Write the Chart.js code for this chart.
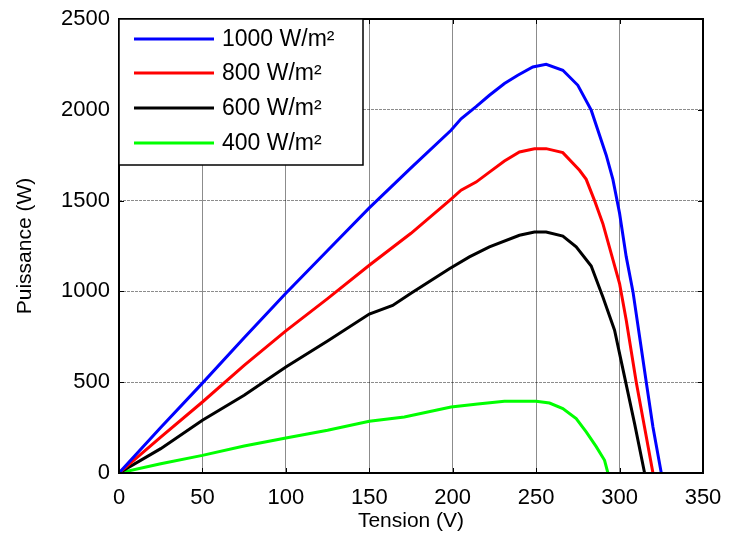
<!DOCTYPE html>
<html>
<head>
<meta charset="utf-8">
<script src="https://cdn.jsdelivr.net/npm/chart.js@4.4.0/dist/chart.umd.min.js"></script>
<style>
  html, body { margin: 0; padding: 0; background: #fff; }
  canvas { display: block; }
</style>
</head>
<body>
<canvas id="pvChart" width="730" height="537"></canvas>
<script>
// P-V curves
const seriesLabels = ['1000 W/m²', '800 W/m²', '600 W/m²', '400 W/m²'];
const seriesColors = ['#0000ff', '#ff0000', '#000000', '#00ff00'];

const voltage1000 = [0, 25, 50, 75, 100, 125, 150, 175, 199, 205, 214, 222, 231, 239, 248, 256, 266, 275, 283, 292, 296, 300, 304, 308, 312, 316, 320, 325];
const power1000 = [0, 250, 495, 745, 990, 1225, 1460, 1680, 1887, 1950, 2017, 2080, 2145, 2190, 2236, 2250, 2218, 2135, 1998, 1750, 1617, 1430, 1190, 1000, 750, 500, 253, 0];

const voltage800 = [0, 25, 50, 75, 100, 125, 150, 175, 198, 205, 214, 222, 231, 240, 249, 256, 266, 276, 280, 285, 290, 295, 300, 304, 310, 315, 320];
const power800 = [0, 198, 391, 593, 783, 960, 1144, 1320, 1500, 1557, 1602, 1657, 1718, 1768, 1786, 1786, 1764, 1667, 1617, 1500, 1373, 1208, 1043, 841, 500, 250, 0];

const voltage600 = [0, 25, 50, 75, 100, 125, 150, 164, 175, 198, 210, 222, 240, 249, 256, 266, 274, 283, 290, 297, 303, 309, 315];
const power600 = [0, 134, 290, 428, 584, 727, 875, 923, 990, 1125, 1190, 1245, 1309, 1327, 1327, 1305, 1245, 1140, 969, 786, 529, 272, 0];

const voltage400 = [0, 25, 50, 75, 100, 125, 150, 171, 199, 215, 231, 250, 258, 266, 274, 280, 286, 291, 293];
const power400 = [0, 51, 97, 149, 193, 235, 285, 308, 363, 380, 395, 395, 385, 355, 300, 226, 145, 70, 0];

const xTicks = [0, 50, 100, 150, 200, 250, 300, 350];
const yTicks = [0, 500, 1000, 1500, 2000, 2500];

const voltages = [voltage1000, voltage800, voltage600, voltage400];
const powers = [power1000, power800, power600, power400];

function toPoints(xs, ys) {
    return xs.map((v, i) => ({ x: v, y: ys[i] }));
}

const FONT = "'Liberation Sans', Arial, sans-serif";

// MATLAB-like frame, inner tick marks and legend box
const matlabFrame = {
    id: 'matlabFrame',
    afterDraw(chart) {
        const ctx = chart.ctx;
        const a = chart.chartArea;
        const xs = chart.scales.x;
        const ys = chart.scales.y;
        ctx.save();

        ctx.strokeStyle = '#000';
        ctx.lineWidth = 1;
        ctx.beginPath();
        xTicks.forEach(t => {
            const px = Math.round(xs.getPixelForValue(t)) + 0.5;
            ctx.moveTo(px, a.bottom); ctx.lineTo(px, a.bottom - 5);
            ctx.moveTo(px, a.top); ctx.lineTo(px, a.top + 5);
        });
        yTicks.forEach(t => {
            const py = Math.round(ys.getPixelForValue(t)) + 0.5;
            ctx.moveTo(a.left, py); ctx.lineTo(a.left + 5, py);
            ctx.moveTo(a.right, py); ctx.lineTo(a.right - 5, py);
        });
        ctx.stroke();

        ctx.lineWidth = 2;
        ctx.strokeRect(a.left, a.top, a.right - a.left, a.bottom - a.top);

        // legend
        const lx = a.left, ly = a.top, lw = 244, lh = 146;
        ctx.fillStyle = '#fff';
        ctx.fillRect(lx, ly, lw, lh);
        ctx.lineWidth = 1.5;
        ctx.strokeRect(lx, ly, lw, lh);
        const rows = [20, 54, 89, 124];
        ctx.font = '23px ' + FONT;
        ctx.textBaseline = 'middle';
        ctx.textAlign = 'left';
        seriesLabels.forEach((lab, i) => {
            const y = ly + rows[i];
            ctx.strokeStyle = seriesColors[i];
            ctx.lineWidth = 3;
            ctx.beginPath();
            ctx.moveTo(lx + 15, y);
            ctx.lineTo(lx + 95, y);
            ctx.stroke();
            ctx.fillStyle = '#000';
            ctx.fillText(lab, lx + 103, y + 1);
        });
        ctx.restore();
    }
};

const ctx = document.getElementById('pvChart').getContext('2d');
const pvChart = new Chart(ctx, {
    type: 'line',
    data: {
        datasets: seriesLabels.map((lab, i) => ({
            label: lab,
            data: toPoints(voltages[i], powers[i]),
            borderColor: seriesColors[i],
            backgroundColor: seriesColors[i],
            borderWidth: 3,
            pointRadius: 0,
            tension: 0,
            fill: false
        }))
    },
    options: {
        responsive: false,
        animation: false,
        layout: { padding: { top: 19, right: 27, left: 0, bottom: 0 } },
        plugins: {
            legend: { display: false },
            tooltip: { enabled: false }
        },
        scales: {
            x: {
                type: 'linear',
                min: 0,
                max: 350,
                afterFit: s => { s.height = 64; s.paddingLeft = 0; s.paddingRight = 0; },
                afterBuildTicks: s => { s.ticks = xTicks.map(v => ({ value: v })); },
                ticks: { color: '#000', padding: 12, font: { family: FONT, size: 22 }, callback: v => String(v) },
                grid: { color: 'rgba(0,0,0,0.45)', lineWidth: 1, drawTicks: false },
                border: { display: false },
                title: {
                    display: true,
                    text: 'Tension (V)',
                    color: '#000',
                    padding: 3,
                    font: { family: FONT, size: 21 }
                }
            },
            y: {
                type: 'linear',
                min: 0,
                max: 2500,
                afterFit: s => { s.width = 119; s.paddingTop = 0; s.paddingBottom = 0; },
                afterBuildTicks: s => { s.ticks = yTicks.map(v => ({ value: v })); },
                ticks: { color: '#000', padding: 9, font: { family: FONT, size: 22 }, callback: v => String(v) },
                grid: { color: 'rgba(0,0,0,0.45)', lineWidth: 1, drawTicks: false },
                border: { display: false, dash: [3, 1] },
                title: {
                    display: true,
                    text: 'Puissance (W)',
                    color: '#000',
                    padding: 13,
                    font: { family: FONT, size: 21 }
                }
            }
        }
    },
    plugins: [matlabFrame]
});
</script>
</body>
</html>
